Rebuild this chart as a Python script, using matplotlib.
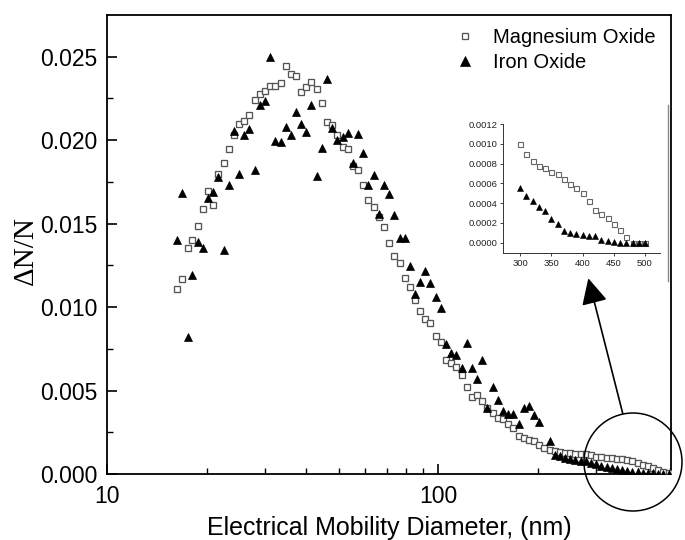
import numpy as np
import matplotlib
matplotlib.use("Agg")
import matplotlib.pyplot as plt
from matplotlib.patches import Ellipse, FancyArrowPatch
from matplotlib.lines import Line2D
from matplotlib.ticker import FixedLocator, NullFormatter, FixedFormatter

plt.rcParams['font.family'] = ['Liberation Sans', 'DejaVu Sans']

# ---- main data (electrical mobility diameter, nm) ----
diameter = [
    16.3, 16.8, 17.5, 18.1, 18.8, 19.5, 20.2, 20.9, 21.7, 22.5,
    23.3, 24.1, 25.0, 25.9, 26.9, 27.9, 28.9, 30.0, 31.1, 32.2,
    33.4, 34.6, 35.9, 37.2, 38.5, 40.0, 41.4, 42.9, 44.5, 46.1,
    47.8, 49.6, 51.4, 53.3, 55.2, 57.3, 59.4, 61.5, 63.8, 66.1,
    68.5, 71.0, 73.7, 76.4, 79.1, 82.0, 85.1, 88.2, 91.4, 94.7,
    98.2, 101.8, 105.5, 109.4, 113.4, 117.6, 121.9, 126.3, 131.0, 135.8,
    140.7, 145.9, 151.2, 156.8, 162.5, 168.5, 174.7, 181.1, 187.7, 194.6,
    201.7, 209.1, 216.7, 224.7, 232.9, 241.4, 250.3, 259.5, 269.0, 278.8,
    289.0, 299.6, 310.6, 322.0, 333.8, 346.0, 358.7, 371.8, 385.4, 399.5,
    414.2, 429.4, 445.1, 461.4, 478.3, 495.8,
]

magnesium_oxide = [
    0.01107, 0.01171, 0.01355, 0.01403, 0.01485, 0.01589, 0.01698, 0.01614, 0.01799, 0.01866,
    0.01948, 0.02030, 0.02096, 0.02112, 0.02150, 0.02242, 0.02278, 0.02296, 0.02322, 0.02326,
    0.02340, 0.02444, 0.02398, 0.02386, 0.02290, 0.02320, 0.02350, 0.02306, 0.02220, 0.02110,
    0.02090, 0.02030, 0.01959, 0.01947, 0.01846, 0.01821, 0.01733, 0.01643, 0.01602, 0.01540,
    0.01477, 0.01383, 0.01307, 0.01265, 0.01177, 0.01119, 0.01043, 0.00977, 0.00927, 0.00903,
    0.00827, 0.00791, 0.00683, 0.00665, 0.00640, 0.00592, 0.00520, 0.00464, 0.00472, 0.00438,
    0.00398, 0.00364, 0.00334, 0.00328, 0.00300, 0.00274, 0.00230, 0.00218, 0.00204, 0.00198,
    0.00174, 0.00158, 0.00146, 0.00138, 0.00132, 0.00128, 0.00125, 0.00122, 0.00120, 0.00118,
    0.00115, 0.00104, 0.00100, 0.00097, 0.00093, 0.00090, 0.00087, 0.00082, 0.00075, 0.00066,
    0.00056, 0.00045, 0.00034, 0.00022, 0.00012, 0.00004,
]

iron_oxide = [
    0.01399, 0.01686, 0.00823, 0.01191, 0.01387, 0.01353, 0.01656, 0.01692, 0.01779, 0.01345,
    0.01731, 0.02056, 0.01799, 0.02030, 0.02066, 0.01823, 0.02210, 0.02236, 0.02496, 0.01995,
    0.01989, 0.02080, 0.02030, 0.02170, 0.02098, 0.02048, 0.02210, 0.01787, 0.01956, 0.02364,
    0.02074, 0.02000, 0.02020, 0.02042, 0.01866, 0.02036, 0.01922, 0.01734, 0.01794, 0.01557,
    0.01734, 0.01680, 0.01550, 0.01413, 0.01413, 0.01249, 0.01079, 0.01149, 0.01217, 0.01143,
    0.01059, 0.00993, 0.00778, 0.00724, 0.00713, 0.00635, 0.00787, 0.00635, 0.00570, 0.00683,
    0.00396, 0.00523, 0.00444, 0.00380, 0.00362, 0.00360, 0.00298, 0.00398, 0.00408, 0.00356,
    0.00310, np.nan, 0.00196, 0.00114, 0.00105, 0.00098, 0.00092, 0.00086, 0.00080, 0.00075,
    0.00068, 0.00058, 0.00050, 0.00044, 0.00038, 0.00032, 0.00026, 0.00020, 0.00014, 0.00010,
    0.00008, 0.00006, 0.00004, 0.00002, 0.00001, 0.00000,
]

# ---- inset data ----
inset_diameter = [300, 310, 320, 330, 340, 350, 360, 370, 380, 390, 400,
                  410, 420, 430, 440, 450, 460, 470, 480, 490, 500]
inset_magnesium = [0.00100, 0.00090, 0.00083, 0.00078, 0.00075, 0.00071, 0.00069,
                   0.00064, 0.00059, 0.00055, 0.00050, 0.00042, 0.00033, 0.00029,
                   0.00025, 0.00019, 0.00013, 0.00006, 0.00000, 0.00000, 0.00000]
inset_iron = [0.00055, 0.00047, 0.00042, 0.00036, 0.00032, 0.00024, 0.00019,
              0.00012, 0.00010, 0.00009, 0.00008, 0.00007, 0.00007, 0.00003,
              0.00002, 0.00001, 0.00000, 0.00000, 0.00000, 0.00000, 0.00000]

main_yticks = [0.000, 0.005, 0.010, 0.015, 0.020, 0.025]
main_xtick_labels = ["10", "100"]
inset_yticks = [0.0000, 0.0002, 0.0004, 0.0006, 0.0008, 0.0010, 0.0012]
inset_xticks = [300, 350, 400, 450, 500]

W, H = 685, 540
fig = plt.figure(figsize=(6.85, 5.40), dpi=100)

def fx(px):
    return px / W

def fy(py):
    return 1 - py / H

ax = fig.add_axes([fx(107), fy(474), fx(670.7) - fx(107), fy(15) - fy(474)])
ax.set_xscale('log')

sq_edge = '#555555'
ax.plot(diameter, magnesium_oxide, linestyle='none', marker='s', markersize=4.7,
        markerfacecolor='white', markeredgecolor=sq_edge, markeredgewidth=0.95,
        label='Magnesium Oxide', zorder=3)
ax.plot(diameter, iron_oxide, linestyle='none', marker='^', markersize=6.4,
        markerfacecolor='black', markeredgecolor='black', markeredgewidth=0.5,
        label='Iron Oxide', zorder=4)

ax.set_xlim(10, 503)
ax.set_ylim(0, 0.0275)

ax.xaxis.set_major_locator(FixedLocator([10, 100]))
ax.xaxis.set_major_formatter(FixedFormatter(main_xtick_labels))
ax.xaxis.set_minor_locator(FixedLocator([20, 30, 40, 50, 60, 70, 80, 90, 200, 300, 400, 500]))
ax.xaxis.set_minor_formatter(NullFormatter())
ax.yaxis.set_major_locator(FixedLocator(main_yticks))
ax.yaxis.set_minor_locator(FixedLocator([0.0025, 0.0075, 0.0125, 0.0175, 0.0225]))
ax.set_yticklabels([f"{v:.3f}" for v in main_yticks])

ax.tick_params(axis='both', which='major', direction='in', length=7, width=1.2,
               labelsize=16.5, top=False, right=False)
ax.tick_params(axis='both', which='minor', direction='in', length=4, width=1.0,
               top=False, right=False)
ax.tick_params(axis='y', which='major', pad=7)
ax.tick_params(axis='x', which='major', pad=8)
for s in ax.spines.values():
    s.set_linewidth(1.3)

ax.set_xlabel('Electrical Mobility Diameter, (nm)', fontsize=18, labelpad=6)
fig.text(fx(26), fy(251), 'ΔN/N', rotation=90, ha='center', va='center',
         fontsize=21, family=['Liberation Serif', 'DejaVu Serif'])

leg = ax.legend(loc='upper left', bbox_to_anchor=(fx(455), fy(28)),
                bbox_transform=fig.transFigure, frameon=False, fontsize=14.5,
                handlelength=1.0, handletextpad=0.9, labelspacing=0.3,
                borderpad=0.0, borderaxespad=0.0)
leg.legend_handles[0].set_markersize(4.5)
leg.legend_handles[1].set_markersize(6.5)

# ---- inset ----
axi = fig.add_axes([fx(503), fy(253), fx(660) - fx(503), fy(124) - fy(253)])
axi.plot(inset_diameter, inset_magnesium, linestyle='none', marker='s', markersize=3.6,
         markerfacecolor='white', markeredgecolor='#666666', markeredgewidth=0.8, zorder=3)
axi.plot(inset_diameter, inset_iron, linestyle='none', marker='^', markersize=4.8,
         markerfacecolor='black', markeredgecolor='black', markeredgewidth=0.4, zorder=4)
axi.set_xlim(272.8, 524)
axi.set_ylim(-0.000105, 0.0012)
axi.set_xticks(inset_xticks)
axi.set_yticks(inset_yticks)
axi.set_yticklabels([f"{v:.4f}" for v in inset_yticks])
axi.spines['top'].set_visible(False)
axi.spines['right'].set_visible(False)
for s in ('left', 'bottom'):
    axi.spines[s].set_linewidth(0.7)
    axi.spines[s].set_color('#333333')
axi.tick_params(axis='both', which='major', direction='out', length=2.5, width=0.6,
                labelsize=6.8, pad=1.5, colors='#222222')
axi.patch.set_alpha(0)

# gray vertical line on the right of the inset
fig.add_artist(Line2D([fx(668.3), fx(668.3)], [fy(105), fy(281)], color='#888888',
                      linewidth=1.0, transform=fig.transFigure))

# circle highlighting the tail
circ = Ellipse((fx(633), fy(462)), width=98 / W, height=98 / H, transform=fig.transFigure,
               fill=False, edgecolor='black', linewidth=1.1)
fig.add_artist(circ)

# arrow from circle to inset
arr = FancyArrowPatch((fx(622.7), fy(413.3)), (fx(588.3), fy(278.3)),
                      transform=fig.transFigure, arrowstyle='-|>,head_length=10,head_width=5',
                      mutation_scale=1.6, color='black', linewidth=1.2, shrinkA=0, shrinkB=0)
fig.add_artist(arr)

fig.savefig('out.png', dpi=100)
